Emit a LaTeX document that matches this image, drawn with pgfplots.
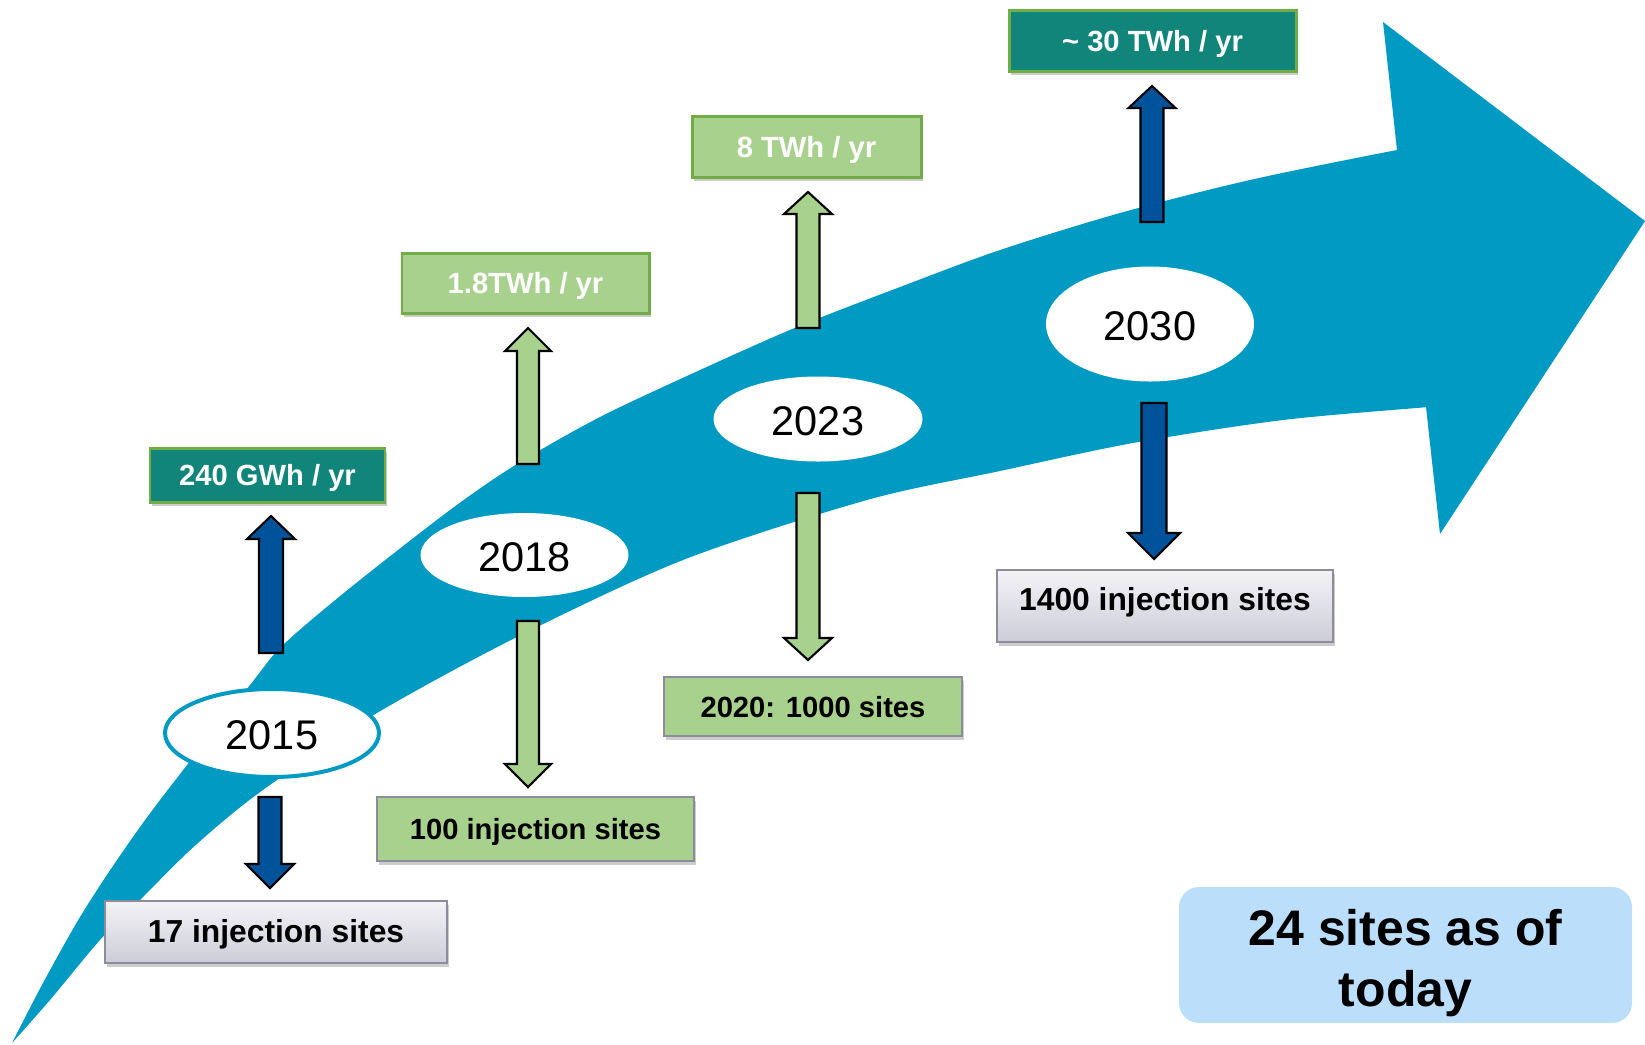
\documentclass[border=0pt]{standalone}
\usepackage{fontspec}
\setmainfont{Liberation Sans}
\usepackage{pgfplots}
\pgfplotsset{compat=1.18}
\usetikzlibrary{shapes.geometric}

\definecolor{flow}{HTML}{009AC2}
\definecolor{navy}{HTML}{00539B}
\definecolor{leaf}{HTML}{A9D18E}
\definecolor{leafedge}{HTML}{70AD47}
\definecolor{tealbox}{HTML}{12857A}
\definecolor{greyedge}{HTML}{8C8C9C}
\definecolor{greytop}{HTML}{F3F3F6}
\definecolor{greybot}{HTML}{CDCDD9}
\definecolor{skybox}{HTML}{BBDEFB}

\newcommand\yearfont{\fontsize{11.8}{14}\selectfont}
\newcommand\energyfont{\bfseries\fontsize{8.3}{10}\selectfont}
\newcommand\sitefont{\bfseries\fontsize{9.05}{11}\selectfont}
\newcommand\greenfont{\bfseries\fontsize{8.3}{10}\selectfont}

\tikzset{
    ell/.style={ellipse, inner sep=0pt, fill=white, draw=none},
    shade/.style={fill=black, fill opacity=0.2, draw=none},
}

\begin{document}
\begin{tikzpicture}
\begin{axis}[
    width=16.45cm, height=10.44cm, scale only axis,
    xmin=0, xmax=1645, ymin=0, ymax=1044,
    y dir=reverse,
    hide axis, clip=false,
]
% big curved arrow: body
\addplot[fill=flow, draw=none, smooth, tension=0.5] coordinates {
  (12,1043) (43,983) (80,917) (117,860) (160,800) (250,685) (283,645)
  (350,588) (450,510) (517,464) (600,417) (700,370) (797,327) (900,287)
  (1000,250) (1120,213) (1250,180) (1397,150) (1480,136) (1510,270)
  (1480,402) (1428,407) (1283,420) (1133,443) (1000,471) (867,500)
  (683,560) (517,637) (377,713) (277,780) (233,813) (187,853) (140,900)
  (100,940) (50,1000) (12,1043)};
% big curved arrow: head
\addplot[fill=flow, draw=none] coordinates {
  (1383,22) (1645,221) (1440,534) (1426,407) (1397,150)} --cycle;

% year ellipses
\node[ell, draw=flow, line width=0.4mm, minimum width=21.4mm, minimum height=8.8mm] at (axis cs:272,733) {};
\node[ell, minimum width=20.8mm, minimum height=8.4mm] at (axis cs:524.5,555) {};
\node[ell, minimum width=20.9mm, minimum height=8.5mm] at (axis cs:818,419) {};
\node[ell, minimum width=20.8mm, minimum height=11.5mm] at (axis cs:1150,324) {};
\node[font=\yearfont, anchor=base] at (axis cs:272,749) {2015};
\node[font=\yearfont, anchor=base] at (axis cs:524.5,571) {2018};
\node[font=\yearfont, anchor=base] at (axis cs:818,435) {2023};
\node[font=\yearfont, anchor=base] at (axis cs:1150,340) {2030};

% block arrows
\addplot[fill=navy, draw=black, line width=0.6pt] coordinates {
  (259,653) (259,539) (247,539) (271,516) (295,539) (283,539) (283,653)} --cycle;
\addplot[fill=navy, draw=black, line width=0.6pt] coordinates {
  (258.5,797) (281.5,797) (281.5,864) (294,864) (270,888) (246,864) (258.5,864)} --cycle;
\addplot[fill=leaf, draw=black, line width=0.6pt] coordinates {
  (517,464) (517,351) (505,351) (528,328) (551,351) (539,351) (539,464)} --cycle;
\addplot[fill=leaf, draw=black, line width=0.6pt] coordinates {
  (517,621) (539,621) (539,764) (551,764) (528,787) (505,764) (517,764)} --cycle;
\addplot[fill=leaf, draw=black, line width=0.6pt] coordinates {
  (796.5,328) (796.5,214) (784,214) (808,192) (832,214) (819.5,214) (819.5,328)} --cycle;
\addplot[fill=leaf, draw=black, line width=0.6pt] coordinates {
  (796.5,493) (819.5,493) (819.5,638) (832,638) (808,660) (784,638) (796.5,638)} --cycle;
\addplot[fill=navy, draw=black, line width=0.6pt] coordinates {
  (1140.5,222) (1140.5,108) (1128.5,108) (1152,86) (1175.5,108) (1163.5,108) (1163.5,222)} --cycle;
\addplot[fill=navy, draw=black, line width=0.6pt] coordinates {
  (1141.5,403) (1166.5,403) (1166.5,533) (1180,533) (1154,559) (1128,533) (1141.5,533)} --cycle;

% energy boxes
\addplot[shade] coordinates {(152,452) (387,452) (387,506) (152,506)} --cycle;
\addplot[fill=tealbox, draw=leafedge, line width=0.85pt] coordinates {(150,448) (385,448) (385,502) (150,502)} --cycle;
\node[font=\energyfont, text=white, anchor=base] at (axis cs:267.5,485.5) {240 GWh / yr};

\addplot[shade] coordinates {(404,257) (651,257) (651,317) (404,317)} --cycle;
\addplot[fill=leaf, draw=leafedge, line width=0.85pt] coordinates {(402,253) (649,253) (649,313) (402,313)} --cycle;
\node[font=\energyfont, text=white, anchor=base] at (axis cs:525.5,293.5) {1.8TWh / yr};

\addplot[shade] coordinates {(694,120) (923,120) (923,181) (694,181)} --cycle;
\addplot[fill=leaf, draw=leafedge, line width=0.85pt] coordinates {(692,116) (921,116) (921,177) (692,177)} --cycle;
\node[font=\energyfont, text=white, anchor=base] at (axis cs:806.5,157) {8 TWh / yr};

\addplot[shade] coordinates {(1011,14) (1298,14) (1298,75) (1011,75)} --cycle;
\addplot[fill=tealbox, draw=leafedge, line width=0.85pt] coordinates {(1009,10) (1296,10) (1296,71) (1009,71)} --cycle;
\node[font=\energyfont, text=white, anchor=base] at (axis cs:1152.5,51) {\textasciitilde{} 30 TWh / yr};

% site boxes
\addplot[shade] coordinates {(107,905) (449,905) (449,967) (107,967)} --cycle;
\addplot[top color=greytop, bottom color=greybot, draw=greyedge, line width=0.6pt] coordinates {(105,901) (447,901) (447,963) (105,963)} --cycle;
\node[font=\sitefont, anchor=base] at (axis cs:276,942) {17 injection sites};

\addplot[shade] coordinates {(379,801) (696,801) (696,865) (379,865)} --cycle;
\addplot[fill=leaf, draw=greyedge, line width=0.6pt] coordinates {(377,797) (694,797) (694,861) (377,861)} --cycle;
\node[font=\greenfont, anchor=base] at (axis cs:535.5,839.5) {100 injection sites};

\addplot[shade] coordinates {(666,681) (964,681) (964,740) (666,740)} --cycle;
\addplot[fill=leaf, draw=greyedge, line width=0.6pt] coordinates {(664,677) (962,677) (962,736) (664,736)} --cycle;
\node[font=\greenfont, anchor=base] at (axis cs:813,717) {2020: 1000 sites};

\addplot[shade] coordinates {(999,574) (1335,574) (1335,646) (999,646)} --cycle;
\addplot[top color=greytop, bottom color=greybot, draw=greyedge, line width=0.6pt] coordinates {(997,570) (1333,570) (1333,642) (997,642)} --cycle;
\node[font=\sitefont, anchor=base] at (axis cs:1165,610) {1400 injection sites};

% today box
\addplot[fill=skybox, draw=none, rounded corners=2mm] coordinates {(1179,887) (1632,887) (1632,1023) (1179,1023)} --cycle;
\node[font=\bfseries\fontsize{14.2}{17}\selectfont, anchor=base] at (axis cs:1405.5,945) {24 sites as of};
\node[font=\bfseries\fontsize{14.2}{17}\selectfont, anchor=base] at (axis cs:1405.5,1006) {today};
\end{axis}
\path (current axis.south west) rectangle (current axis.north east);
\end{tikzpicture}
\end{document}
